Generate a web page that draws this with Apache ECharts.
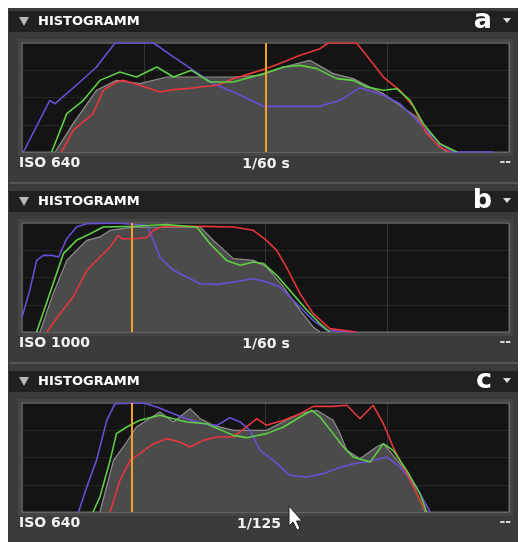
<!DOCTYPE html>
<html>
<head>
<meta charset="utf-8">
<title>Histogramm</title>
<script src="https://cdn.jsdelivr.net/npm/echarts@6/dist/echarts.min.js"></script>
<style>
  html, body { margin: 0; padding: 0; background: #fff; }
  #chart { width: 525px; height: 542px; }
</style>
</head>
<body>
<div id="chart"></div>
<script>
// panel a
const aGray = [[6.8, 0], [10.5, 26], [15.3, 56.6], [19.4, 65.7], [24.2, 62.7], [29.7, 68.8], [36.6, 68.8], [43.4, 68.8], [48.9, 70.3], [53.7, 78], [59.1, 84.1], [63.9, 71.9], [68, 67.3], [74.2, 53.5], [81, 32.1], [84.5, 10.7], [87.2, 0]]
const aBlue = [[0.3, 0], [5.7, 47.4], [6.8, 44.3], [11.9, 64.2], [15.3, 78], [19.1, 100], [27, 100], [31.1, 87.2], [35.2, 74.9], [39.3, 62.7], [43.4, 55], [49.6, 41.9], [61.2, 41.9], [65.3, 47.4], [69.4, 59], [74.2, 52], [77.6, 44.3], [82.4, 22.9], [85.8, 7.6], [88.6, 0], [96.8, 0]]
const aGreen = [[6.1, 0], [9.2, 35.2], [12.6, 47.4], [16, 65.7], [20.1, 73.4], [23.5, 68.8], [27.7, 78], [31.1, 68.8], [34.8, 74.9], [38.6, 64.2], [43.4, 64.2], [49.6, 71.9], [53.7, 78], [57.1, 79.5], [60.5, 76.5], [64.6, 67.3], [68, 65.7], [70.8, 59.6], [74.2, 56.6], [76.9, 58.1], [79.7, 47.4], [82.4, 26], [85.8, 7.6], [89.3, 0]]
const aRed = [[8.1, 0], [10.5, 19.9], [14.6, 35.2], [16.7, 56.6], [19.4, 64.2], [20.8, 65.7], [24.2, 61.2], [28.3, 55], [31.1, 57.2], [33.8, 58.1], [36.6, 59.6], [40, 61.2], [43.4, 67.3], [46.8, 71.9], [50.2, 76.5], [53.7, 82.6], [57.1, 88.7], [61.2, 94.8], [62.9, 100], [68.7, 100], [72.1, 81], [74.2, 68.8], [77.6, 56.6], [80.4, 41.3], [83.1, 16.8], [85.8, 4.6], [87.9, 0]]

// panel b
const bGray = [[3.7, 0], [6.4, 35.2], [9.2, 65.7], [11.9, 78], [13.3, 84.1], [16, 87.2], [18.1, 93.3], [22.9, 96.3], [36.6, 96.3], [39.3, 84.1], [43.4, 67.3], [47.5, 65.7], [50.2, 59.6], [53.7, 41.3], [57.1, 19.9], [59.8, 4.6], [61.2, 0]]
const bBlue = [[0, 13.8], [1.6, 38.2], [3, 65.7], [4.4, 70.3], [6.1, 70.3], [7.5, 68.8], [9.2, 85.6], [11.2, 96.3], [13.3, 99.4], [19.1, 100], [25.6, 97.9], [27, 84.1], [28.3, 68.8], [31.1, 56.6], [33.8, 50.5], [36.6, 44.3], [40, 43.7], [43.4, 45.9], [47.5, 48.9], [50.2, 45.9], [53, 41.3], [55.7, 29.1], [59.8, 10.7], [62.6, 1.5], [68.7, 0]]
const bGreen = [[3, 0], [5.7, 35.2], [8.5, 71.9], [11.2, 84.1], [14, 90.2], [16.7, 96.3], [22.9, 96.9], [26.3, 97.9], [29.7, 98.5], [35.9, 96.3], [38.6, 81], [42, 65.7], [44.8, 61.2], [47.5, 64.2], [49.6, 62.7], [52.3, 52], [55, 38.2], [58.5, 19.9], [61.2, 7.6], [63.2, 0]]
const bRed = [[5.1, 0], [7.8, 16.8], [10.5, 32.1], [13.3, 56.6], [16, 68.8], [18.1, 78], [19.8, 88.7], [20.5, 85.6], [22.9, 85.6], [25.6, 86.5], [27, 93.3], [29, 96.9], [36.6, 96.9], [43.4, 96.3], [47.5, 93.3], [50.2, 84.1], [52.3, 74.9], [54.3, 59.6], [57.1, 35.2], [59.8, 16.8], [63.2, 3.1], [68.7, 0]]

// panel c
const cGray = [[16, 0], [18.8, 47.4], [21.5, 64.2], [23.5, 78], [28.3, 91.7], [31.1, 82.6], [34.5, 94.8], [36.6, 85.6], [39.3, 79.5], [43.4, 74.9], [46.8, 74.9], [50.2, 74.9], [54.3, 84.1], [57.1, 90.2], [60.5, 93.3], [63.9, 84.1], [65.3, 71.9], [66.7, 56.6], [69.4, 48.9], [72.8, 59.6], [74.2, 62.7], [77.6, 44.3], [79.7, 32.1], [81.7, 10.7], [82.8, 0]]
const cBlue = [[11.6, 0], [13.3, 22.9], [15.3, 47.4], [17.4, 84.1], [19.1, 99.4], [24.9, 100], [27.7, 96.3], [31.1, 90.2], [33.8, 85.6], [37.2, 81], [40, 79.5], [42.7, 86.5], [44.8, 82.6], [46.8, 74.9], [48.9, 56.6], [51.6, 47.4], [55, 33.6], [58.5, 32.1], [61.9, 35.2], [64.6, 39.8], [68, 44.3], [70.8, 45.9], [74.9, 50.5], [77.6, 41.3], [81, 22.9], [83.8, 0]]
const cGreen = [[14.6, 0], [16, 13.8], [18.1, 47.4], [19.4, 71.9], [21.5, 78], [24.2, 84.1], [28.3, 88.7], [31.1, 85.6], [33.8, 82.6], [37.9, 81], [43.4, 70.3], [46.1, 68.2], [50.2, 71.9], [53.7, 78], [57.1, 87.2], [59.5, 93.3], [61.2, 87.2], [63.9, 71.9], [66, 59.6], [68, 50.5], [71.5, 45.9], [74.2, 62.7], [76.2, 56.6], [79, 38.2], [81.7, 16.8], [83.1, 0]]
const cRed = [[18.1, 0], [20.1, 29.1], [22.2, 47.4], [24.2, 53.5], [27, 62.7], [29.7, 67.3], [32.4, 64.2], [34.5, 59.6], [37.2, 65.7], [40, 68.8], [43.4, 68.8], [46.1, 78], [48.2, 85.6], [50.2, 79.5], [53.7, 84.1], [57.1, 90.2], [59.8, 96.9], [63.9, 96.9], [66.7, 97.9], [69.4, 85.6], [72.1, 97.9], [74.2, 81], [76.2, 59.6], [78.3, 41.3], [80.4, 22.9], [82.4, 4.6], [83.1, 0]]

const panelNames = ['a', 'b', 'c']
const isoLabels = ['ISO 640', 'ISO 1000', 'ISO 640']
const shutterLabels = ['1/60 s', '1/60 s', '1/125']
const markerPos = [50, 22.6, 22.6]
const panelData = [
  { gray: aGray, blue: aBlue, red: aRed, green: aGreen },
  { gray: bGray, blue: bBlue, red: bRed, green: bGreen },
  { gray: cGray, blue: cBlue, red: cRed, green: cGreen }
]

const panelTop = [0, 180, 360]
const font = '"DejaVu Sans", sans-serif'

const grids = []
const xAxes = []
const yAxes = []
const series = []
const graphics = [
  { type: 'rect', z: -20, shape: { x: 8, y: 8, width: 510, height: 534 }, style: { fill: '#3b3b3b' } }
]

panelTop.forEach((off, i) => {
  grids.push({
    left: 22, top: off + 43, width: 487, height: 109,
    show: true, backgroundColor: '#141414', borderColor: '#6a6a6a', borderWidth: 1
  })
  xAxes.push({
    type: 'value', gridIndex: i, min: 0, max: 100, interval: 25,
    axisLine: { show: false }, axisTick: { show: false }, axisLabel: { show: false },
    splitLine: { lineStyle: { color: 'rgba(255,255,255,0.13)', width: 1 } }
  })
  yAxes.push({
    type: 'value', gridIndex: i, min: 0, max: 100, interval: 25,
    axisLine: { show: false }, axisTick: { show: false }, axisLabel: { show: false },
    splitLine: { lineStyle: { color: 'rgba(255,255,255,0.08)', width: 1 } }
  })

  const d = panelData[i]
  const base = { type: 'line', xAxisIndex: i, yAxisIndex: i, symbol: 'none', smooth: false, animation: false }
  series.push(Object.assign({}, base, {
    name: 'gray' + i, data: d.gray,
    lineStyle: { color: '#8e8e8e', width: 1.2 },
    areaStyle: { color: '#4b4b4b', opacity: 1 },
    markLine: {
      silent: true, symbol: 'none', label: { show: false },
      lineStyle: { color: '#f4a12c', width: 2, type: 'solid' },
      data: [{ xAxis: markerPos[i] }]
    }
  }))
  series.push(Object.assign({}, base, { name: 'blue' + i, data: d.blue, lineStyle: { color: '#6a4fd6', width: 1.6 } }))
  series.push(Object.assign({}, base, { name: 'red' + i, data: d.red, lineStyle: { color: '#e8363c', width: 1.6 } }))
  series.push(Object.assign({}, base, { name: 'green' + i, data: d.green, lineStyle: { color: '#5fcf45', width: 1.6 } }))

  // header bar and labels
  graphics.push({ type: 'rect', z: -10, shape: { x: 9, y: off + 11, width: 509, height: 21 }, style: { fill: '#212121' } })
  graphics.push({ type: 'rect', z: -10, shape: { x: 18, y: off + 39, width: 495, height: 117 }, style: { fill: '#454545' } })
  graphics.push({ type: 'polygon', shape: { points: [[19, off + 17], [29, off + 17], [24, off + 26]] }, style: { fill: '#b8b8b8' } })
  graphics.push({ type: 'text', x: 38, y: off + 22, style: { text: 'HISTOGRAMM', fill: '#ffffff', font: 'bold 13px ' + font, textVerticalAlign: 'middle' } })
  graphics.push({ type: 'text', x: 492, y: off + 21, style: { text: panelNames[i], fill: '#ffffff', font: 'bold 27px ' + font, textAlign: 'right', textVerticalAlign: 'middle' } })
  graphics.push({ type: 'polygon', shape: { points: [[503, off + 18], [511, off + 18], [507, off + 23]] }, style: { fill: '#dddddd' } })
  graphics.push({ type: 'text', x: 19, y: off + 163, style: { text: isoLabels[i], fill: '#f2f2f2', font: 'bold 14px ' + font, textVerticalAlign: 'middle' } })
  graphics.push({ type: 'text', x: i === 2 ? 259 : 266, y: off + 164, style: { text: shutterLabels[i], fill: '#f2f2f2', font: 'bold 14px ' + font, textAlign: 'center', textVerticalAlign: 'middle' } })
  graphics.push({ type: 'text', x: 511, y: off + 162, style: { text: '--', fill: '#d8d8d8', font: 'bold 14px ' + font, textAlign: 'right', textVerticalAlign: 'middle' } })
  if (i < 2) {
    graphics.push({ type: 'rect', z: -10, shape: { x: 9, y: off + 182, width: 509, height: 2 }, style: { fill: '#555555' } })
  }
})

// mouse pointer in panel c
graphics.push({
  type: 'polygon', z: 10,
  shape: { points: [[289, 506], [289, 526], [293, 522], [297, 530], [300, 528.5], [296.5, 521], [302, 521]] },
  style: { fill: '#ffffff', stroke: '#222222', lineWidth: 1 }
})

const chart = echarts.init(document.getElementById('chart'))
chart.setOption({
  backgroundColor: '#ffffff',
  animation: false,
  grid: grids,
  xAxis: xAxes,
  yAxis: yAxes,
  series: series,
  graphic: { elements: graphics }
})
</script>
</body>
</html>
